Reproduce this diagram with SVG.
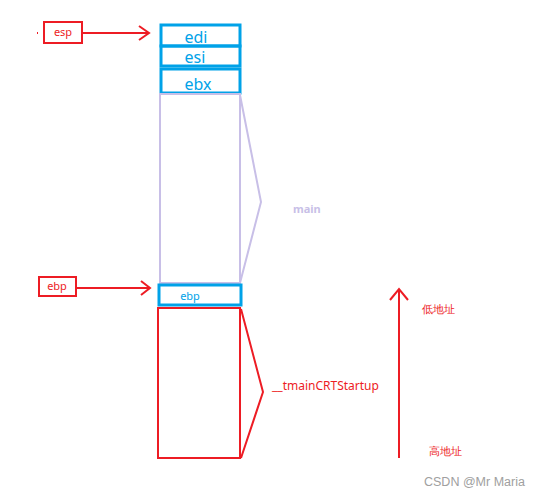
<svg xmlns="http://www.w3.org/2000/svg" width="542" height="498" viewBox="0 0 542 498">
<style>
.red{fill:none;stroke:#ed1c24;stroke-width:2}
.blue{fill:none;stroke:#00a2e8;stroke-width:3}
.lav{fill:none;stroke:#c8bfe7;stroke-width:2}
.t{font-family:"Noto Sans","Liberation Sans",sans-serif}
.bt{fill:#00a2e8;font-size:16px;text-anchor:middle}
.rt{fill:#ed1c24;font-size:11px}
</style>
<rect width="542" height="498" fill="#fff"/>
<g id="esp-label">
<rect class="red" x="44" y="22" width="38" height="21"/>
<text class="t rt" x="63" y="36" text-anchor="middle">esp</text>
<rect x="37" y="32" width="1" height="2" fill="#ed1c24"/>
</g>
<g id="edi"><rect class="blue" x="161" y="25" width="79" height="21"/><text class="t bt" x="196" y="43">edi</text></g>
<g id="esi"><rect class="blue" x="161" y="46" width="79" height="20"/><text class="t bt" x="195" y="63">esi</text></g>
<g id="ebx"><rect class="blue" x="161" y="69" width="79" height="24"/><text class="t bt" x="198" y="90">ebx</text></g>
<g id="main">
<rect class="lav" x="160" y="94" width="80" height="189"/>
<polyline class="lav" points="240,95 261,202 240,283"/>
<text class="t" x="293" y="213" fill="#c8bfe7" font-size="11" font-weight="bold">main</text>
</g>
<g id="ebp-label">
<rect class="red" x="39" y="277" width="37" height="19"/>
<text class="t rt" x="57" y="290" text-anchor="middle">ebp</text>
</g>
<g id="ebp"><rect class="blue" x="159" y="285" width="82" height="20" stroke-width="2"/><text class="t" x="190" y="300" fill="#00a2e8" font-size="11" text-anchor="middle">ebp</text></g>
<g id="tmainCRTStartup">
<rect class="red" x="158" y="308" width="82" height="150"/>
<polyline class="red" points="241,309 263,392 241,458"/>
<text class="t rt" x="272" y="390" font-size="12" style="font-size:12px">__tmainCRTStartup</text>
</g>
<g id="connectors">
<line class="red" x1="82" y1="33" x2="149" y2="33"/>
<polyline class="red" points="139,26 149,33 139,40"/>
<line class="red" x1="76" y1="288" x2="150" y2="288"/>
<polyline class="red" points="141,281 150,288 141,295"/>
<line class="red" x1="399" y1="289" x2="399" y2="458"/>
<polyline class="red" points="390,300 399,289 408,300"/>
</g>
<g id="addr">
<text class="t rt" x="422" y="313" font-family="'Noto Sans CJK SC',sans-serif">低地址</text>
<text class="t rt" x="429" y="455" font-family="'Noto Sans CJK SC',sans-serif">高地址</text>
</g>
<text x="424" y="486" fill="#a0a0a0" font-size="12.5" font-family="'Liberation Sans',Arial,sans-serif">CSDN @Mr Maria</text>
</svg>
